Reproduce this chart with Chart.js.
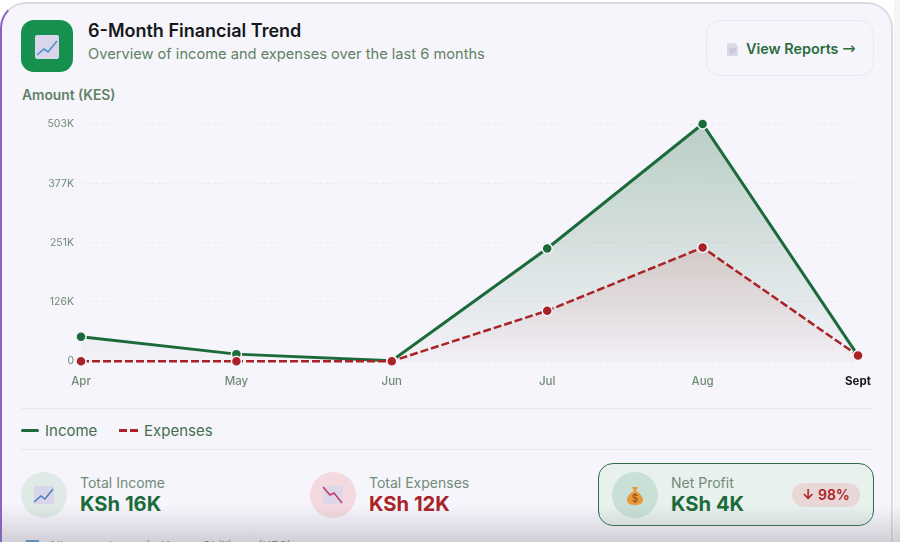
<!DOCTYPE html>
<html>
<head>
<meta charset="utf-8">
<script src="https://cdn.jsdelivr.net/npm/chart.js@4"></script>
<style>
  html, body { margin: 0; padding: 0; background: #fff; }
  body { width: 900px; height: 545px; overflow: hidden; position: relative; font-family: Inter, sans-serif; }
  .abs { position: absolute; white-space: nowrap; }
  #card { left: 0; top: 2px; width: 893px; height: 600px; box-sizing: border-box; background: #f7f5fc; border: 2px solid #dcdae6; border-left: 2px solid #8a63c4; border-top-color: #dcdae6; border-radius: 26px; }
  #side { left: 894px; top: 0; width: 6px; height: 542px; background: #f4f7f1; }
  #wrap { left: 0; top: 100px; width: 900px; height: 294px; }
  #logo { left: 21px; top: 20px; width: 52px; height: 52px; border-radius: 13px; background: #15904f; }
  #title { left: 88px; top: 20px; font-size: 18px; line-height: 22px; font-weight: 600; color: #15181a; }
  #sub { left: 88px; top: 44px; font-size: 14.65px; line-height: 20px; color: #5f8163; }
  #btn { left: 706px; top: 20px; width: 168px; height: 56px; box-sizing: border-box; border: 1px solid #e9e7f1; border-radius: 14px; }
  #btnText { left: 746px; top: 39px; font-size: 14.4px; line-height: 20px; font-weight: 600; color: #2a6d3c; }
  #btnText span { font-family: "DejaVu Sans"; font-weight: 400; font-size: 16px; }
  #amount { left: 22px; top: 86px; font-size: 13.8px; line-height: 18px; font-weight: 600; color: #5f8163; }
  .sep { left: 21px; width: 852px; height: 1px; background: #e8e7ee; }
  .legend { top: 421px; font-size: 15px; line-height: 20px; color: #42704f; }
  .swatch { height: 3px; top: 429px; }
  .circle { top: 472px; width: 46px; height: 46px; border-radius: 50%; }
  .label { top: 474px; font-size: 14px; line-height: 18px; color: #6f8c75; }
  .value { top: 491px; font-size: 20.2px; line-height: 26px; font-weight: 700; }
  #profit { left: 598px; top: 463px; width: 276px; height: 63px; box-sizing: border-box; border: 1.5px solid #2f6b48; border-radius: 15px; background: #e8f1ee; }
  #badge { left: 792px; top: 483px; width: 68px; height: 24px; border-radius: 12px; background: #e9d7d8; color: #a92326; font-size: 14px; line-height: 24px; font-weight: 600; text-align: center; }
  #shade { left: 0; top: 505px; width: 900px; height: 37px; background: linear-gradient(to bottom, rgba(120,120,130,0), rgba(120,120,130,.3)); }
  #foot { left: 0; top: 542px; width: 900px; height: 3px; background: #fff; }
  #note { left: 48px; top: 537px; font-size: 13px; line-height: 18px; color: #6f8c75; }
  #noteIcon { left: 26px; top: 540px; width: 13px; height: 2px; background: #5b9bd5; }
</style>
</head>
<body>
<div class="abs" id="side"></div>
<div class="abs" id="card"></div>

<div class="abs" id="logo">
  <svg width="52" height="52"><rect x="14" y="15" width="24" height="24" rx="2" fill="#d9d5ea"/><path d="M16 35l7-6 4 3 9-11" stroke="#4a8fd0" stroke-width="1.6" fill="none"/></svg>
</div>
<div class="abs" id="title">6-Month Financial Trend</div>
<div class="abs" id="sub">Overview of income and expenses over the last 6 months</div>

<div class="abs" id="btn"></div>
<svg class="abs" style="left:726px;top:42px" width="13" height="15"><path d="M1 1h8l3 3v10H1z" fill="#dcd8e8"/><path d="M3 7h7M3 9h7M3 11h5" stroke="#bdb8cf" stroke-width="1"/></svg>
<div class="abs" id="btnText">View Reports <span>→</span></div>

<div class="abs" id="amount">Amount (KES)</div>
<div class="abs" id="wrap"><canvas id="trendChart"></canvas></div>

<div class="abs sep" style="top:408px"></div>
<div class="abs swatch" style="left:21px;width:18px;background:#1b6b3a;border-radius:2px"></div>
<div class="abs legend" style="left:45px">Income</div>
<svg class="abs" style="left:119px;top:429px" width="19" height="3"><path d="M0 1.5h19" stroke="#a92326" stroke-width="3" stroke-dasharray="8 3"/></svg>
<div class="abs legend" style="left:144px">Expenses</div>
<div class="abs sep" style="top:449px"></div>

<div class="abs circle" style="left:21px;background:#dfeae6"></div>
<svg class="abs" style="left:33px;top:485px" width="22" height="20"><rect x="1" y="1" width="20" height="18" fill="#d9d5ea"/><path d="M1 17l7-6 4 3 8-10" stroke="#4a7fc0" stroke-width="1.5" fill="none"/></svg>
<div class="abs label" style="left:80px">Total Income</div>
<div class="abs value" style="left:80px;color:#1b6b3a">KSh 16K</div>

<div class="abs circle" style="left:310px;background:#f4dae0"></div>
<svg class="abs" style="left:322px;top:485px" width="22" height="20"><rect x="1" y="1" width="20" height="18" fill="#dcd8ea"/><path d="M1 2l7 8 4-2 8 10" stroke="#c9356a" stroke-width="1.5" fill="none"/></svg>
<div class="abs label" style="left:369px">Total Expenses</div>
<div class="abs value" style="left:369px;color:#a92326">KSh 12K</div>

<div class="abs" id="profit"></div>
<div class="abs circle" style="left:612px;background:#c8e0d6"></div>
<svg class="abs" style="left:626px;top:486px" width="18" height="20"><path d="M6 1h6l-2 4c4 2 7 6 7 9 0 4-4 5-8 5s-8-1-8-5c0-3 3-7 7-9z" fill="#e9993a"/><text x="9" y="16" font-size="10" font-family="Inter" text-anchor="middle" fill="#8a4a10">$</text></svg>
<div class="abs label" style="left:671px">Net Profit</div>
<div class="abs value" style="left:671px;color:#1b6b3a">KSh 4K</div>
<div class="abs" id="badge">↓ 98%</div>

<div class="abs" id="noteIcon"></div>
<div class="abs" id="note">All amounts are in Kenya Shillings (KES)</div>
<div class="abs" id="shade"></div>
<div class="abs" id="foot"></div>

<script>
const months = ["Apr", "May", "Jun", "Jul", "Aug", "Sept"]
const income = [52000, 15000, 1000, 239000, 503000, 12000]
const expenses = [0, 0, 0, 107000, 241000, 12000]
const tickValues = [0, 126000, 251000, 377000, 503000]
const tickLabels = ["0", "126K", "251K", "377K", "503K"]

function areaFill(ctx, top, bottom) {
  const area = ctx.chart.chartArea
  if (!area) return top
  const g = ctx.chart.ctx.createLinearGradient(0, area.top, 0, area.bottom)
  g.addColorStop(0, top)
  g.addColorStop(1, bottom)
  return g
}

new Chart(document.getElementById("trendChart"), {
  type: "line",
  data: {
    labels: months,
    datasets: [
      {
        label: "Income",
        data: income,
        order: 2,
        clip: false,
        borderColor: "#1b6b3a",
        borderWidth: 3,
        tension: 0,
        fill: "origin",
        backgroundColor: (ctx) => areaFill(ctx, "rgba(27,107,58,.28)", "rgba(27,107,58,.02)"),
        pointRadius: 5,
        pointBackgroundColor: "#1b6b3a",
        pointBorderColor: "#f7f5fc",
        pointBorderWidth: 1.5,
      },
      {
        label: "Expenses",
        data: expenses,
        order: 1,
        clip: false,
        borderColor: "#a92326",
        borderWidth: 2.5,
        borderDash: [8, 3],
        tension: 0,
        fill: "origin",
        backgroundColor: (ctx) => areaFill(ctx, "rgba(190,40,40,.26)", "rgba(190,40,40,.01)"),
        pointRadius: 5,
        pointBackgroundColor: "#a92326",
        pointBorderColor: "#f7f5fc",
        pointBorderWidth: 1.5,
      },
    ],
  },
  options: {
    responsive: true,
    maintainAspectRatio: false,
    animation: false,
    layout: { padding: { top: 24, right: 42, bottom: 0, left: 0 } },
    plugins: { legend: { display: false }, tooltip: { enabled: false } },
    scales: {
      x: {
        offset: false,
        grid: { display: false },
        border: { display: false },
        ticks: {
          padding: 5.5,
          maxRotation: 0,
          color: (c) => (c.index === months.length - 1 ? "#15181a" : "#6f8c75"),
          font: (c) => ({ family: "Inter", size: 11.5, weight: c.index === months.length - 1 ? "700" : "500" }),
        },
      },
      y: {
        min: 0,
        max: 503000,
        afterBuildTicks: (axis) => {
          axis.ticks = tickValues.map((value) => ({ value }))
        },
        afterFit: (axis) => {
          axis.width = 81
        },
        grid: { color: "#eae9f0", drawTicks: false, lineWidth: 1 },
        border: { display: false, dash: [3, 4] },
        ticks: {
          padding: 7,
          color: "#6f8c75",
          font: { family: "Inter", size: 10.5 },
          callback: (v) => tickLabels[tickValues.indexOf(v)],
        },
      },
    },
  },
})
</script>
</body>
</html>
